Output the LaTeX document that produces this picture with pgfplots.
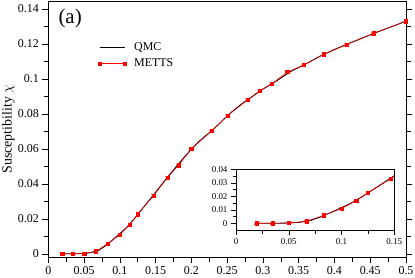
\documentclass[border=0pt]{standalone}
\usepackage{pgfplots}
\pgfplotsset{compat=1.18}
\usepackage{pgfplotstable}
\usepackage{fontspec}
\setmainfont{Liberation Serif}

\pgfplotstableread{
x y e
0.0196 0.0000 0.0004
0.0347 0.0000 0.0004
0.0503 0.0002 0.0004
0.0667 0.0014 0.0005
0.0833 0.0059 0.0006
0.1000 0.0109 0.0007
0.1140 0.0168 0.0008
0.1250 0.0226 0.0008
0.1470 0.0332 0.0008
0.1667 0.0436 0.0008
0.1820 0.0506 0.0008
0.2000 0.0600 0.0008
0.2280 0.0701 0.0008
0.2505 0.0790 0.0008
0.2785 0.0880 0.0008
0.2960 0.0933 0.0008
0.3123 0.0971 0.0008
0.3340 0.1038 0.0008
0.3575 0.1080 0.0008
0.3850 0.1140 0.0008
0.4170 0.1196 0.0008
0.4545 0.1260 0.0008
0.5000 0.1329 0.0008
}\metts

\pgfplotstableread{
x y
0.020 0.0000
0.030 0.0000
0.040 0.0000
0.050 0.0002
0.060 0.0007
0.070 0.0019
0.080 0.0046
0.090 0.0080
0.100 0.0115
0.110 0.0153
0.120 0.0199
0.130 0.0250
0.140 0.0301
0.150 0.0352
0.160 0.0404
0.170 0.0455
0.180 0.0504
0.190 0.0552
0.200 0.0598
0.210 0.0640
0.220 0.0675
0.230 0.0708
0.240 0.0748
0.250 0.0787
0.260 0.0823
0.270 0.0856
0.280 0.0884
0.290 0.0913
0.300 0.0941
0.320 0.0991
0.340 0.1045
0.360 0.1085
0.380 0.1130
0.400 0.1168
0.420 0.1202
0.440 0.1235
0.460 0.1268
0.480 0.1298
0.500 0.1330
}\qmc

\begin{document}
\begin{tikzpicture}
\useasboundingbox (-48.3bp,-20.7bp) rectangle (366.7bp,257.3bp);
\begin{axis}[
  at={(0,0)}, anchor=south west,
  scale only axis,
  width=357.7bp, height=256.3bp,
  xmin=0, xmax=0.5,
  ymin=-0.002, ymax=0.1445,
  xtick={0,0.05,...,0.5},
  ytick={0,0.02,...,0.14},
  minor x tick num=1,
  minor y tick num=1,
  tick align=outside,
  xtick pos=bottom,
  ytick pos=both,
  yticklabel pos=left,
  major tick length=6bp,
  minor tick length=4.5bp,
  tick style={black, line width=0.5pt},
  axis line style={line width=0.8pt},
  /pgf/number format/assume math mode=true,
  /pgf/number format/fixed,
  /pgf/number format/precision=3,
  ticklabel style={font=\fontsize{12}{14}\selectfont},
  ylabel={Susceptibility $\chi$},
  ylabel style={font=\fontsize{14}{16}\selectfont, at={(axis description cs:-0.112,0.5)}, anchor=center},
  legend style={at={(axis description cs:0.13,0.855)}, anchor=north west, draw=none, fill=none,
    font=\fontsize{12}{14}\selectfont, row sep=3bp,
    nodes={inner xsep=3bp},
    /tikz/every odd column/.append style={column sep=5bp}},
  legend cell align=left,
  legend image code/.code={\draw[#1] plot coordinates {(0bp,0bp) (25bp,0bp)};},
]
\addplot[red!55, draw=none, mark=none, forget plot,
  error bars/.cd, y dir=both, y explicit, error bar style={red!55, line width=0.6pt}, error mark options={rotate=90, mark size=2.2pt, red!55}]
  table[x=x,y=y,y error=e] {\metts};
\addplot[black, line width=0.9pt] table[x=x,y=y] {\qmc};
\addlegendentry{QMC}
\addplot[red, line width=0.6pt, mark=square*, mark size=1.6pt, mark options={solid}] table[x=x,y=y] {\metts};
\addlegendentry{METTS}
\node[anchor=base west, inner sep=0pt, font=\fontsize{21}{24}\selectfont] at (axis description cs:0.028,0.913) {(a)};
\end{axis}
\begin{axis}[
  at={(187.7bp,27.3bp)}, anchor=south west,
  scale only axis,
  width=158.3bp, height=60.7bp,
  xmin=0, xmax=0.15,
  ymin=-0.005, ymax=0.04,
  xtick={0,0.05,0.1,0.15},
  ytick={0,0.01,0.02,0.03,0.04},
  scaled y ticks=false,
  scaled x ticks=false,
  minor x tick num=1,
  minor y tick num=1,
  tick align=outside,
  xtick pos=bottom,
  ytick pos=left,
  major tick length=5bp,
  minor tick length=3.5bp,
  tick style={black, line width=0.5pt},
  axis line style={line width=0.8pt},
  axis background/.style={fill=white},
  /pgf/number format/assume math mode=true,
  /pgf/number format/fixed,
  /pgf/number format/precision=3,
  ticklabel style={font=\fontsize{9}{10}\selectfont},
]
\addplot[red!55, draw=none, mark=none,
  error bars/.cd, y dir=both, y explicit, error bar style={red!55, line width=0.6pt}, error mark options={rotate=90, mark size=2.2pt, red!55}]
  table[x=x,y=y,y error=e] {\metts};
\addplot[black, line width=0.9pt] table[x=x,y=y] {\qmc};
\addplot[red, line width=0.6pt, mark=square*, mark size=1.6pt] table[x=x,y=y] {\metts};
\end{axis}
\end{tikzpicture}
\end{document}
